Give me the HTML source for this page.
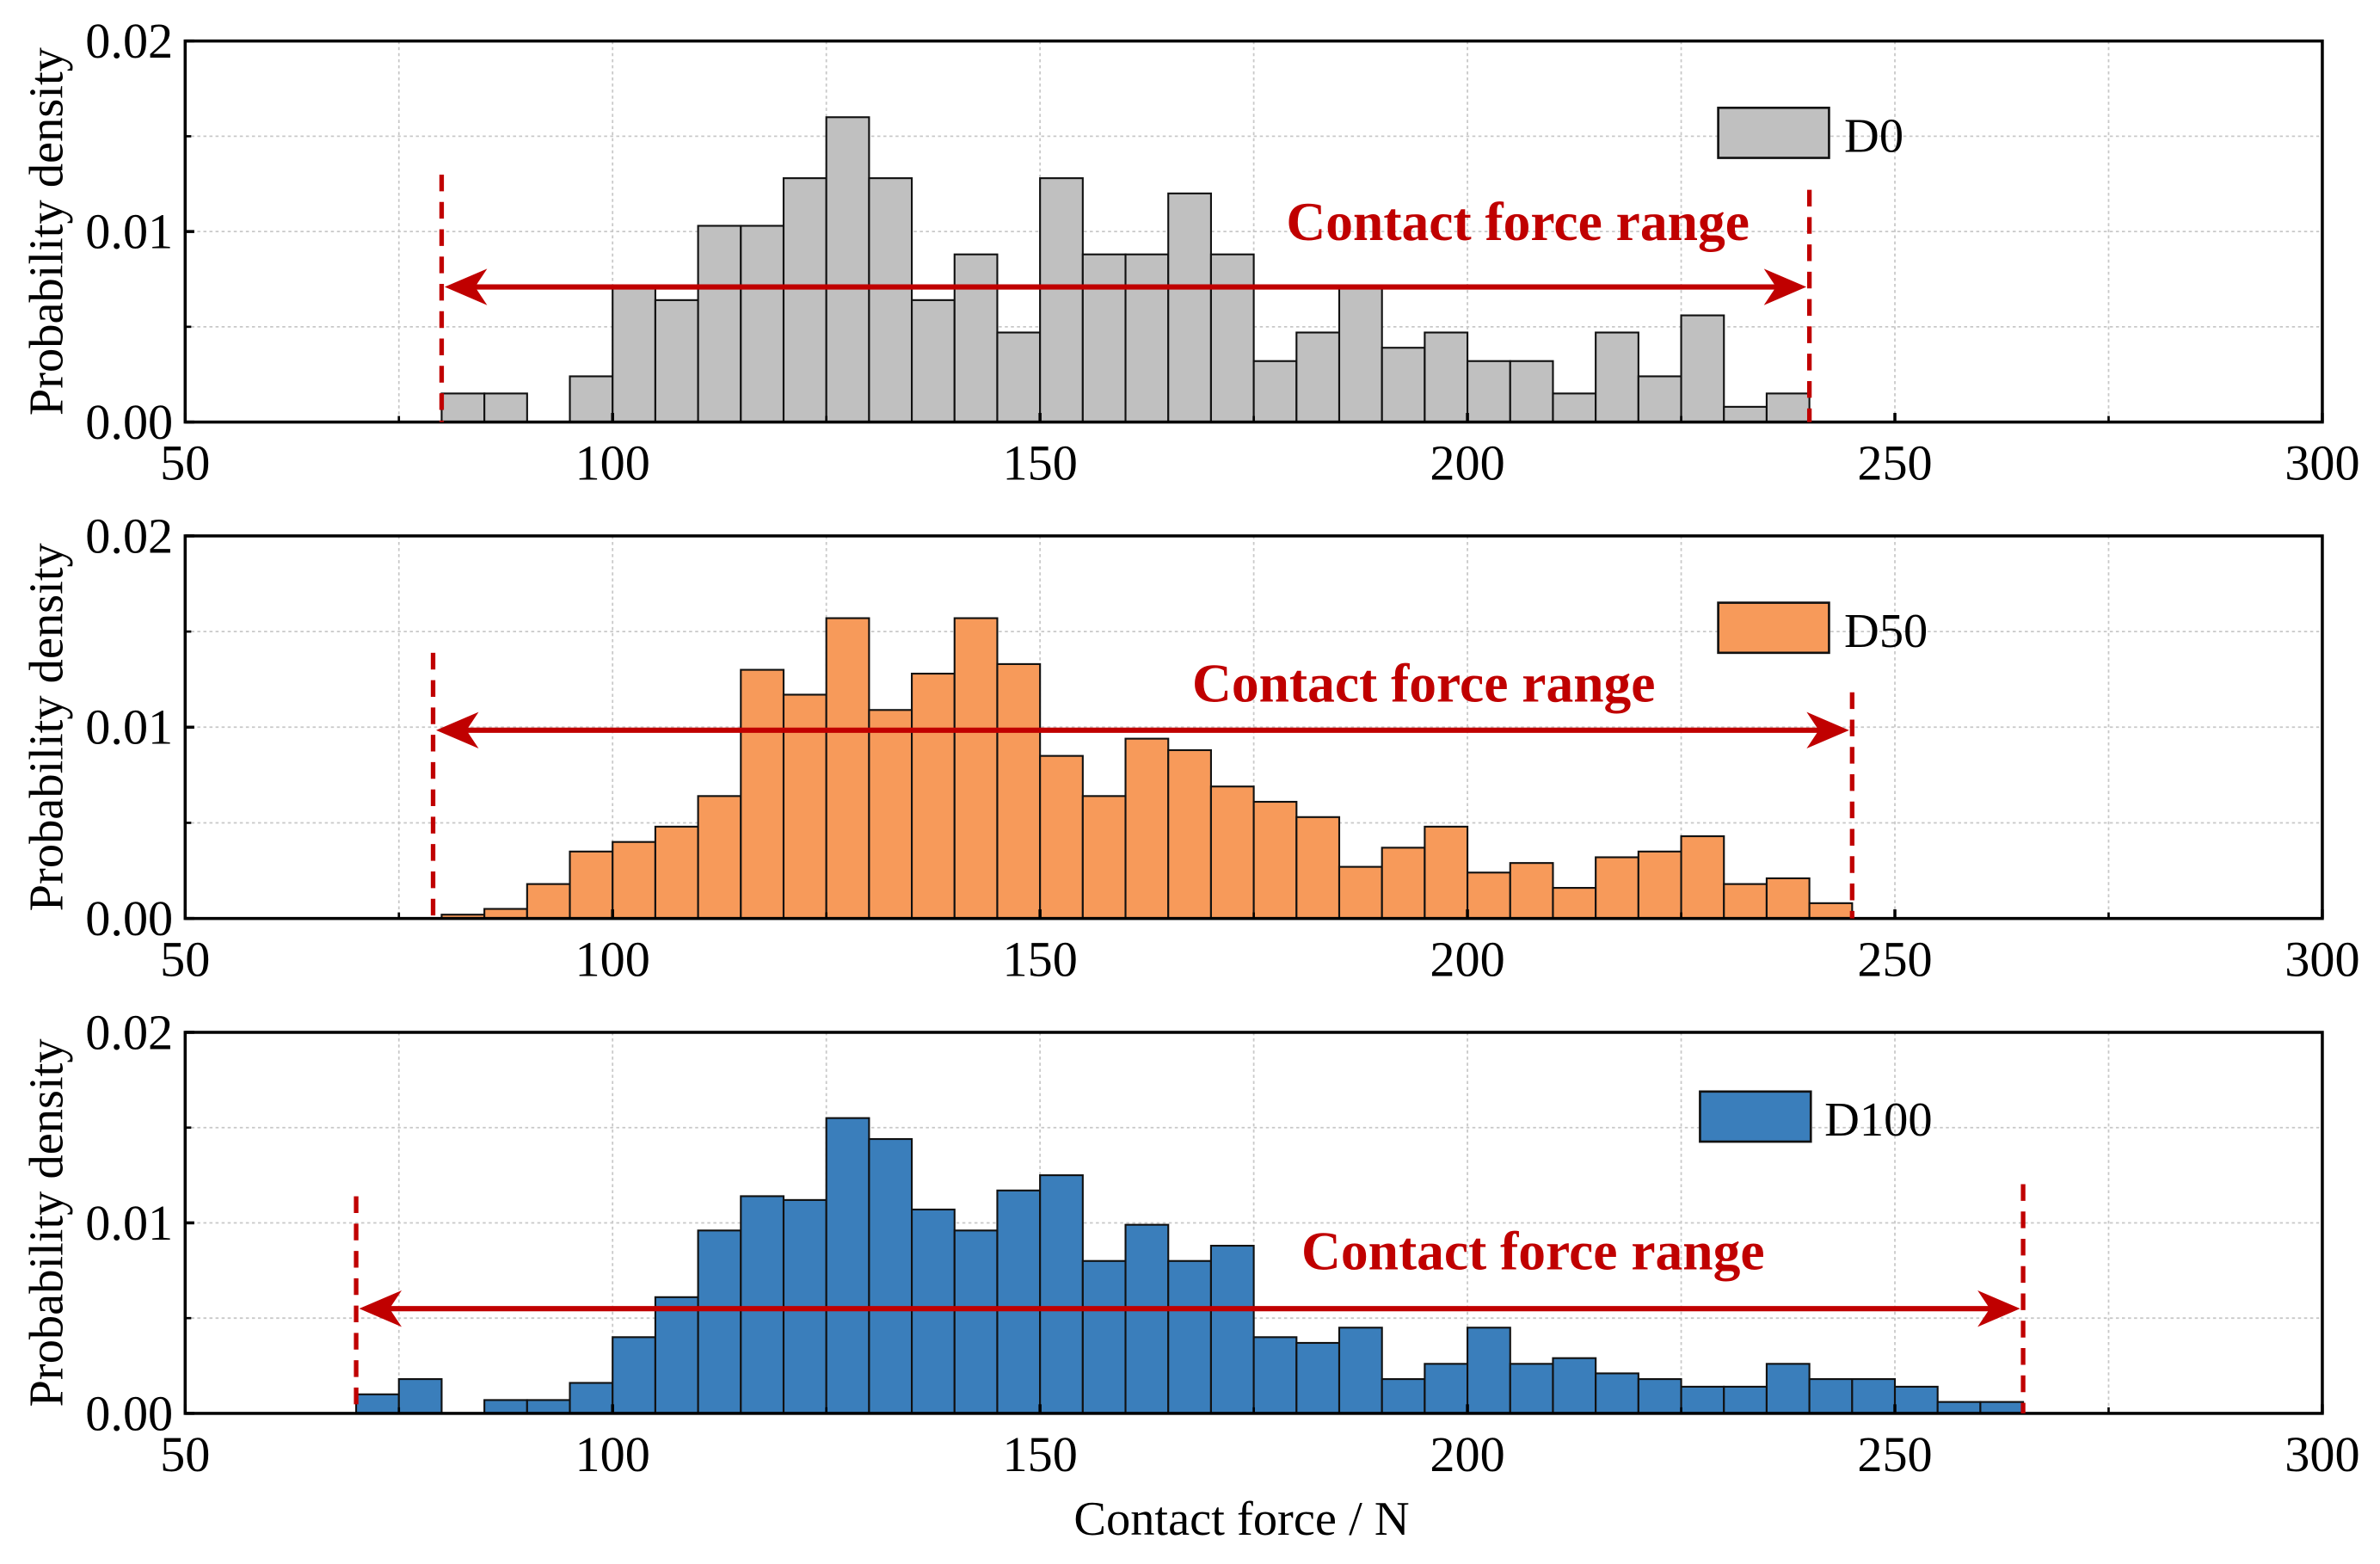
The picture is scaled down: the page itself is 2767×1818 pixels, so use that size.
<!DOCTYPE html>
<html><head><meta charset="utf-8"><style>
html,body{margin:0;padding:0;background:#fff;}
svg{display:block;font-family:"Liberation Serif",serif;}
</style></head><body>
<svg id="chart" xmlns="http://www.w3.org/2000/svg" width="2767" height="1818" viewBox="0 0 1568 1030.2"></svg>
<script>
const binWidth = 5;
const xTicks = [50,100,150,200,250,300];
const yTicks = [0,0.01,0.02];
const yTickLabels = ["0.00","0.01","0.02"];
const d0Start = 80;
const d0Values = [0.0015,0.0015,0,0.0024,0.0071,0.0064,0.0103,0.0103,0.0128,0.016,0.0128,0.0064,0.0088,0.0047,0.0128,0.0088,0.0088,0.012,0.0088,0.0032,0.0047,0.0071,0.0039,0.0047,0.0032,0.0032,0.0015,0.0047,0.0024,0.0056,0.0008,0.0015];
const d50Start = 80;
const d50Values = [0.0002,0.0005,0.0018,0.0035,0.004,0.0048,0.0064,0.013,0.0117,0.0157,0.0109,0.0128,0.0157,0.0133,0.0085,0.0064,0.0094,0.0088,0.0069,0.0061,0.0053,0.0027,0.0037,0.0048,0.0024,0.0029,0.0016,0.0032,0.0035,0.0043,0.0018,0.0021,0.0008];
const d100Start = 70;
const d100Values = [0.001,0.0018,0,0.0007,0.0007,0.0016,0.004,0.0061,0.0096,0.0114,0.0112,0.0155,0.0144,0.0107,0.0096,0.0117,0.0125,0.008,0.0099,0.008,0.0088,0.004,0.0037,0.0045,0.0018,0.0026,0.0045,0.0026,0.0029,0.0021,0.0018,0.0014,0.0014,0.0026,0.0018,0.0018,0.0014,0.0006,0.0006];
const ranges = [[80,240],[79,245],[70,265]];
const seriesNames = ["D0","D50","D100"];

const NS="http://www.w3.org/2000/svg";
const svg=document.getElementById('chart');
function mk(tag,attrs,parent){const e=document.createElementNS(NS,tag);for(const k in attrs)e.setAttribute(k,attrs[k]);(parent||svg).appendChild(e);return e;}
const L=122,R=1530;
const X=v=>L+(v-50)/(300-50)*(R-L);
const panels=[
 {top:27,bot:278,start:d0Start,vals:d0Values,fill:"#c0c0c0",arrowY:189,dash:[115,125],lab:[1000,146],leg:[1132,71,1215]},
 {top:353,bot:605,start:d50Start,vals:d50Values,fill:"#f79a5a",arrowY:481,dash:[430,456],lab:[938,450],leg:[1132,397,1215]},
 {top:680,bot:931,start:d100Start,vals:d100Values,fill:"#3a7ebb",arrowY:862,dash:[788,780],lab:[1010,824],leg:[1120,719,1202]}
];
panels.forEach((p,i)=>{
 const Y=v=>p.bot-v/0.02*(p.bot-p.top);
 const g=mk('g',{});
 
 
 for(let v=75;v<300;v+=25){const l=mk('line',{x1:X(v),x2:X(v),y1:p.top,y2:p.bot,stroke:"#c8c8c8","stroke-width":1,"stroke-dasharray":"2,2"},g);
  }
 for(let v=0.005;v<0.02;v+=0.005){const l=mk('line',{x1:L,x2:R,y1:Y(v),y2:Y(v),stroke:"#c8c8c8","stroke-width":1,"stroke-dasharray":"2,2"},g);
  }
 p.vals.forEach((v,k)=>{if(v<=0)return;const x0=p.start+k*binWidth;
  const r=mk('rect',{x:X(x0),y:Y(v),width:X(x0+binWidth)-X(x0),height:p.bot-Y(v),fill:p.fill,stroke:"#111","stroke-width":1.2},g);
  });
 const f=mk('rect',{x:L,y:p.top,width:R-L,height:p.bot-p.top,fill:"none",stroke:"#000","stroke-width":2},g);
 
 xTicks.forEach(v=>{mk('line',{x1:X(v),x2:X(v),y1:p.bot,y2:p.bot-6,stroke:"#000","stroke-width":2},g);
  const t=mk('text',{x:X(v),y:p.bot+38,"text-anchor":"middle","font-size":33},g);t.textContent=v;
  });
 for(let v=75;v<300;v+=50)mk('line',{x1:X(v),x2:X(v),y1:p.bot,y2:p.bot-4,stroke:"#000","stroke-width":1.5},g);
 yTicks.forEach((v,k)=>{mk('line',{x1:L,x2:L+6,y1:Y(v),y2:Y(v),stroke:"#000","stroke-width":2},g);
  const t=mk('text',{x:114,y:Y(v)+11,"text-anchor":"end","font-size":33},g);t.textContent=yTickLabels[k];
  });
 [0.005,0.015].forEach(v=>mk('line',{x1:L,x2:L+4,y1:Y(v),y2:Y(v),stroke:"#000","stroke-width":1.5},g));
 const yt=mk('text',{x:0,y:0,transform:`translate(41,${(p.top+p.bot)/2}) rotate(-90)`,"text-anchor":"middle","font-size":32},g);
 yt.textContent="Probability density";
 const [a,b]=ranges[i];
 const red="#c00000";
 const d1=mk('line',{x1:X(a),x2:X(a),y1:p.dash[0],y2:p.bot,stroke:red,"stroke-width":3,"stroke-dasharray":"11,7"},g);
 
 const d2=mk('line',{x1:X(b),x2:X(b),y1:p.dash[1],y2:p.bot,stroke:red,"stroke-width":3,"stroke-dasharray":"11,7"},g);
 
 const ar=mk('line',{x1:X(a)+20,x2:X(b)-20,y1:p.arrowY,y2:p.arrowY,stroke:red,"stroke-width":3.5},g);
 
 mk('polygon',{points:`${X(a)+2},${p.arrowY} ${X(a)+30},${p.arrowY-12} ${X(a)+22},${p.arrowY} ${X(a)+30},${p.arrowY+12}`,fill:red},g);
 mk('polygon',{points:`${X(b)-2},${p.arrowY} ${X(b)-30},${p.arrowY-12} ${X(b)-22},${p.arrowY} ${X(b)-30},${p.arrowY+12}`,fill:red},g);
 const lt=mk('text',{x:p.lab[0],y:p.lab[1]+12,"text-anchor":"middle","font-size":36,"font-weight":"bold",fill:red},g);
 lt.textContent="Contact force range";
 const lb=mk('rect',{x:p.leg[0],y:p.leg[1],width:73,height:33,fill:p.fill,stroke:"#111","stroke-width":1.5},g);
 
 const ltx=mk('text',{x:p.leg[2],y:p.leg[1]+29,"font-size":32},g);ltx.textContent=seriesNames[i];
 
});
const xt=mk('text',{x:818,y:1011,"text-anchor":"middle","font-size":32});
xt.textContent="Contact force / N";


</script>
</body></html>
